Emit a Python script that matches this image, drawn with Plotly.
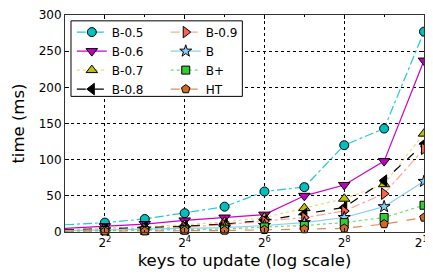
import plotly.graph_objects as go

keys = [2, 4, 8, 16, 32, 64, 128, 256, 512, 1024]
b05 = [10, 13, 18, 26, 35, 56, 62, 120, 143, 277]
b06 = [5, 8, 11, 16, 20, 24, 50, 65, 98, 237]
b07 = [3, 5, 7, 10, 14, 20, 33, 46, 66, 136]
b08 = [3, 4, 6, 8, 11, 16, 25, 34, 71, 122]
b09 = [2, 3, 5, 7, 10, 15, 20, 29, 53, 115]
bt = [2, 3, 4, 5, 6, 9, 13, 20, 35, 70]
bplus = [1, 2, 2, 3, 4, 7, 9, 13, 20, 37]
ht = [1, 1, 1, 2, 2, 3, 4, 5, 11, 20]

x_tickvals = [4, 16, 64, 256, 1024]
x_ticktext = ["2<sup>2</sup>", "2<sup>4</sup>", "2<sup>6</sup>", "2<sup>8</sup>", "2<sup>10</sup>"]
x_minor = [2, 8, 32, 128, 512]
y_tickvals = [0, 50, 100, 150, 200, 250, 300]

series = [
    ("B-0.5", b05, "circle", "#00BFBF", "rgba(0,200,210,0.9)", "dashdot", 9, "legend"),
    ("B-0.6", b06, "triangle-down", "#BF00BF", "#CC00CC", "solid", 10, "legend"),
    ("B-0.7", b07, "triangle-up", "#BFBF00", "rgba(200,200,40,0.6)", "dot", 10, "legend"),
    ("B-0.8", b08, "triangle-left", "#000000", "#000000", "dash", 10, "legend"),
    ("B-0.9", b09, "triangle-right", "#FF6347", "rgba(255,110,80,0.6)", "dashdot", 10, "legend2"),
    ("B", bt, "star", "#87CEFA", "#87CEFA", "solid", 9, "legend2"),
    ("B+", bplus, "square", "#32CD32", "rgba(50,205,50,0.7)", "dot", 8, "legend2"),
    ("HT", ht, "pentagon", "#D2691E", "rgba(220,110,40,0.8)", "dash", 9, "legend2"),
]

fig = go.Figure()
for name, vals, sym, mcol, lcol, dash, size, leg in series:
    fig.add_trace(go.Scatter(
        x=keys, y=vals, name=name, mode="lines+markers",
        line=dict(color=lcol, width=1.2, dash=dash),
        marker=dict(symbol=sym, size=size, color=mcol, line=dict(color="black", width=1)),
        legend=leg, cliponaxis=False,
    ))

# page body has an 8px margin: figure is sized/offset to compensate
fig.update_layout(
    width=425, height=271,
    margin=dict(l=57, r=8, t=0, b=47),
    paper_bgcolor="white", plot_bgcolor="white",
    font=dict(family="DejaVu Sans", size=12, color="black"),
    legend=dict(x=0.019, y=0.988, xanchor="left", yanchor="top",
                bgcolor="rgba(0,0,0,0)", borderwidth=0, font=dict(size=12)),
    legend2=dict(x=0.2806, y=0.988, xanchor="left", yanchor="top",
                 bgcolor="rgba(0,0,0,0)", borderwidth=0, font=dict(size=12)),
    shapes=[dict(type="rect", xref="paper", yref="paper",
                 x0=0.0167, x1=0.494, y0=0.625, y1=0.973,
                 line=dict(color="black", width=1), fillcolor="white", layer="above")],
    annotations=[dict(text="time (ms)", xref="paper", yref="paper", x=-0.1306, y=0.5,
                      xanchor="center", yanchor="middle", textangle=-90,
                      showarrow=False, font=dict(size=16.5))],
)

fig.update_xaxes(
    type="log", range=[0.30103, 3.0103],
    tickmode="array", tickvals=x_tickvals, ticktext=x_ticktext,
    ticks="inside", ticklen=4, tickcolor="black",
    showline=True, linecolor="#333", linewidth=1, mirror="ticks",
    showgrid=True, gridcolor="black", griddash="dot", gridwidth=1,
    minor=dict(tickmode="array", tickvals=x_minor, ticks="inside", ticklen=2, tickcolor="black", showgrid=False),
    tickfont=dict(size=12), ticklabeloverflow="allow",
    title=dict(text="keys to update (log scale)", font=dict(size=16.5), standoff=5),
    zeroline=False,
)
fig.update_yaxes(
    range=[0, 300], tickmode="array", tickvals=y_tickvals,
    ticks="inside", ticklen=4, tickcolor="black",
    showline=True, linecolor="#333", linewidth=1, mirror="ticks",
    showgrid=True, gridcolor="black", griddash="dot", gridwidth=1,
    tickfont=dict(size=12), ticklabeloverflow="allow",
    zeroline=False,
)

fig.write_html("out.html")
